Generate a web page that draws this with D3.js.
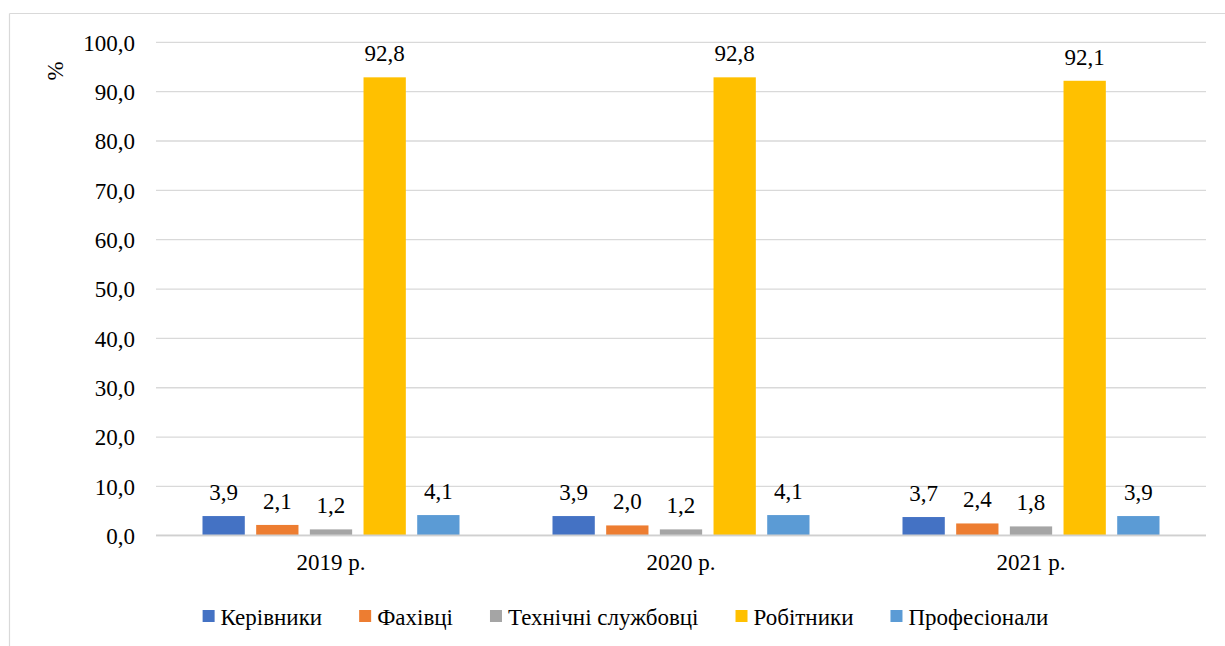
<!DOCTYPE html>
<html>
<head>
<meta charset="utf-8">
<script src="https://cdn.jsdelivr.net/npm/d3@7"></script>
<style>
  html, body { margin: 0; padding: 0; background: #fff; }
  #staff-structure text { font-family: "Liberation Serif", Tinos, "Times New Roman", Times !important; }
</style>
</head>
<body>
<svg id="staff-structure" width="1225" height="646" font-family="Liberation Serif"></svg>
<script>
// Staff structure by category, share of total, %
const years = ["2019 р.", "2020 р.", "2021 р."];
const seriesNames = ["Керівники", "Фахівці", "Технічні службовці", "Робітники", "Професіонали"];
const seriesColors = ["#4472C4", "#ED7D31", "#A5A5A5", "#FFC000", "#5B9BD5"];
const kerivnyky = [3.9, 3.9, 3.7];
const fakhivtsi = [2.1, 2.0, 2.4];
const tekhnichni = [1.2, 1.2, 1.8];
const robitnyky = [92.8, 92.8, 92.1];
const profesionaly = [4.1, 4.1, 3.9];
const yTicks = [0, 10, 20, 30, 40, 50, 60, 70, 80, 90, 100];
const yLabel = "%";

const seriesValues = [kerivnyky, fakhivtsi, tekhnichni, robitnyky, profesionaly];
const fmt = v => d3.format(".1f")(v).replace(".", ",");

const FONT = "23px";
const txt = sel => sel
  .attr("font-family", "Liberation Serif")
  .style("font-family", "\"Liberation Serif\"", "important")
  .style("font-size", FONT)
  .style("fill", "#000");

const svg = d3.select("#staff-structure");

// chart frame
svg.append("line").attr("x1", 9.5).attr("x2", 1225).attr("y1", 13.5).attr("y2", 13.5)
  .attr("stroke", "#d9d9d9").attr("stroke-width", 1.2);
svg.append("line").attr("x1", 9.5).attr("x2", 9.5).attr("y1", 13.5).attr("y2", 646)
  .attr("stroke", "#d9d9d9").attr("stroke-width", 1.2);

const plot = { left: 156, right: 1206, top: 41.8, bottom: 535.3 };

const y = d3.scaleLinear().domain([0, 100]).range([plot.bottom, plot.top]);
const x0 = d3.scaleBand().domain(years).range([plot.left, plot.right])
  .paddingInner(0.2657).paddingOuter(0.2657 / 2);
const x1 = d3.scaleBand().domain(seriesNames).range([0, x0.bandwidth()])
  .paddingInner(0.212).paddingOuter(0);
const color = d3.scaleOrdinal().domain(seriesNames).range(seriesColors);

// gridlines + y tick labels
const yAxis = d3.axisLeft(y).tickValues(yTicks).tickSize(-(plot.right - plot.left))
  .tickPadding(21).tickFormat(fmt);
const gy = svg.append("g").attr("transform", `translate(${plot.left},0)`).call(yAxis);
gy.attr("font-family", "Liberation Serif").attr("font-size", null);
gy.select(".domain").remove();
gy.selectAll(".tick line").attr("stroke", "#d9d9d9").attr("stroke-width", 1.3);
gy.selectAll(".tick text").call(txt).attr("dy", "0.36em");

// y axis title
svg.append("text").attr("transform", "translate(63,71) rotate(-90)")
  .attr("text-anchor", "middle").call(txt).text(yLabel);

// bars
const rows = years.map((yr, i) => ({ year: yr, vals: seriesNames.map((s, j) => ({ s, v: seriesValues[j][i] })) }));
const groups = svg.append("g").selectAll("g").data(rows).join("g")
  .attr("transform", d => `translate(${x0(d.year)},0)`);

groups.selectAll("rect").data(d => d.vals).join("rect")
  .attr("x", d => x1(d.s))
  .attr("width", x1.bandwidth())
  .attr("y", d => y(d.v))
  .attr("height", d => y(0) - y(d.v))
  .attr("fill", d => color(d.s));

groups.selectAll("text.val").data(d => d.vals).join("text")
  .attr("class", "val")
  .attr("x", d => x1(d.s) + x1.bandwidth() / 2)
  .attr("y", d => y(d.v) - 16)
  .attr("text-anchor", "middle")
  .call(txt)
  .text(d => fmt(d.v));

// baseline
svg.append("line").attr("x1", plot.left).attr("x2", plot.right)
  .attr("y1", y(0)).attr("y2", y(0)).attr("stroke", "#d0d0d0").attr("stroke-width", 1.6);

// category labels
const gx = svg.append("g").attr("transform", `translate(0,${plot.bottom})`)
  .call(d3.axisBottom(x0).tickSize(0).tickPadding(0));
gx.attr("font-family", "Liberation Serif").attr("font-size", null);
gx.select(".domain").remove();
gx.selectAll(".tick text").call(txt).attr("dy", 0).attr("y", 35);

// legend
const legend = svg.append("g");
const items = legend.selectAll("g").data(seriesNames).join("g");
items.append("rect").attr("width", 12).attr("height", 12).attr("y", 610)
  .attr("fill", d => color(d));
items.append("text").attr("x", 18).attr("y", 625).call(txt).text(d => d);
const widths = items.nodes().map(n => n.getBBox().width);
const gap = 37;
const total = d3.sum(widths) + gap * (widths.length - 1);
let cx = 625.5 - total / 2;
items.attr("transform", (d, i) => {
  const t = `translate(${cx},0)`;
  cx += widths[i] + gap;
  return t;
});
</script>
</body>
</html>
